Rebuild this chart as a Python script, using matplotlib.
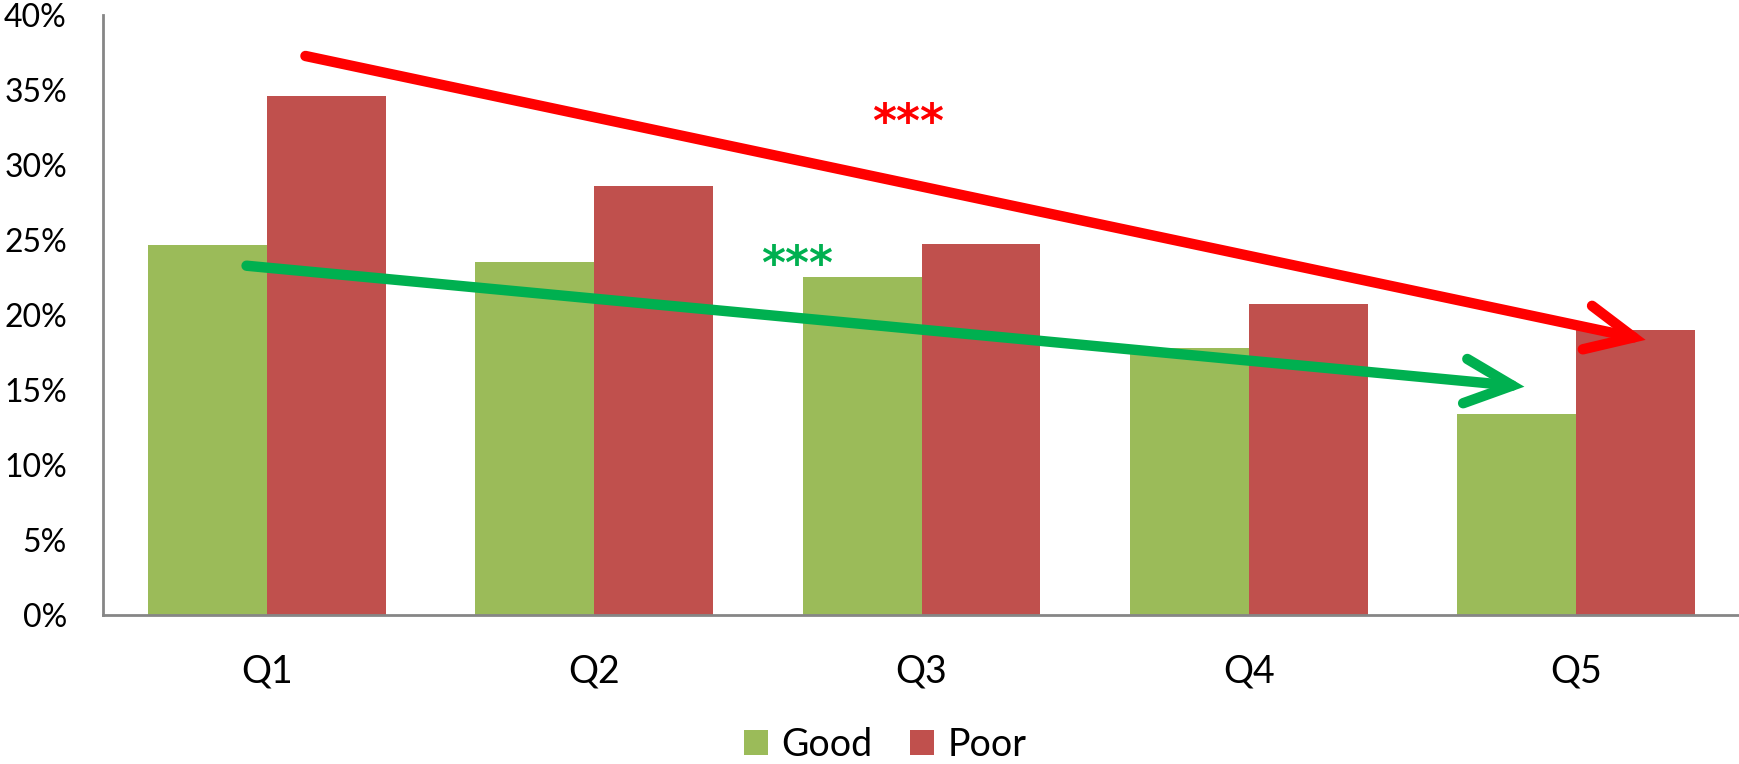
import numpy as np
import matplotlib
matplotlib.use("Agg")
import matplotlib.pyplot as plt
from matplotlib.patches import FancyArrowPatch
from matplotlib.ticker import PercentFormatter

plt.rcParams["font.family"] = ["Lato", "DejaVu Sans"]

categories = ["Q1", "Q2", "Q3", "Q4", "Q5"]
good = [24.65, 23.5, 22.5, 17.8, 13.4]
poor = [34.6, 28.6, 24.7, 20.7, 19.0]

# trend arrows: (x0, y0) -> (x1, y1) in data units
red_trend = [(0.11, 37.3), (4.22, 18.3)]
green_trend = [(-0.07, 23.3), (3.85, 15.2)]
stars_red = (1.96, 32.7)
stars_green = (1.62, 23.25)

GREEN = "#9BBB59"
RED = "#C0504D"

fig = plt.figure(figsize=(17.4, 7.64), dpi=100)
ax = fig.add_axes([0.0592, 0.195, 0.9408, 0.7855])

x = np.arange(len(categories))
w = 0.363
ax.bar(x - w / 2, good, w, color=GREEN, label="Good")
ax.bar(x + w / 2, poor, w, color=RED, label="Poor")

ax.set_xlim(-0.5, 4.5)
ax.set_ylim(0, 40)
ax.set_yticks(np.arange(0, 41, 5))
ax.yaxis.set_major_formatter(PercentFormatter(decimals=0))
ax.set_xticks(x)
ax.set_xticklabels(categories)
ax.tick_params(axis="y", length=0, pad=26, labelsize=23)
ax.tick_params(axis="x", length=0, pad=28, labelsize=27)

for s in ("top", "right"):
    ax.spines[s].set_visible(False)
for s in ("left", "bottom"):
    ax.spines[s].set_color("#868686")
    ax.spines[s].set_linewidth(2)

for (p0, p1), col in ((red_trend, "#FF0000"), (green_trend, "#00B050")):
    arr = FancyArrowPatch(p0, p1, arrowstyle="->,head_length=3.4,head_width=1.6",
                          mutation_scale=10, color=col, lw=7.5,
                          capstyle="round", joinstyle="miter", zorder=5)
    ax.add_patch(arr)

ax.text(*stars_red, "***", color="#FF0000", fontsize=33, fontweight="bold",
        ha="center", va="center", family="DejaVu Sans")
ax.text(*stars_green, "***", color="#00B050", fontsize=33, fontweight="bold",
        ha="center", va="center", family="DejaVu Sans")

fig.legend(loc="center", bbox_to_anchor=(0.5086, 0.025), ncol=2, frameon=False,
           fontsize=27, handlelength=0.65, handleheight=0.65, handletextpad=0.35,
           columnspacing=1.0)

fig.savefig("out.png", dpi=100)
